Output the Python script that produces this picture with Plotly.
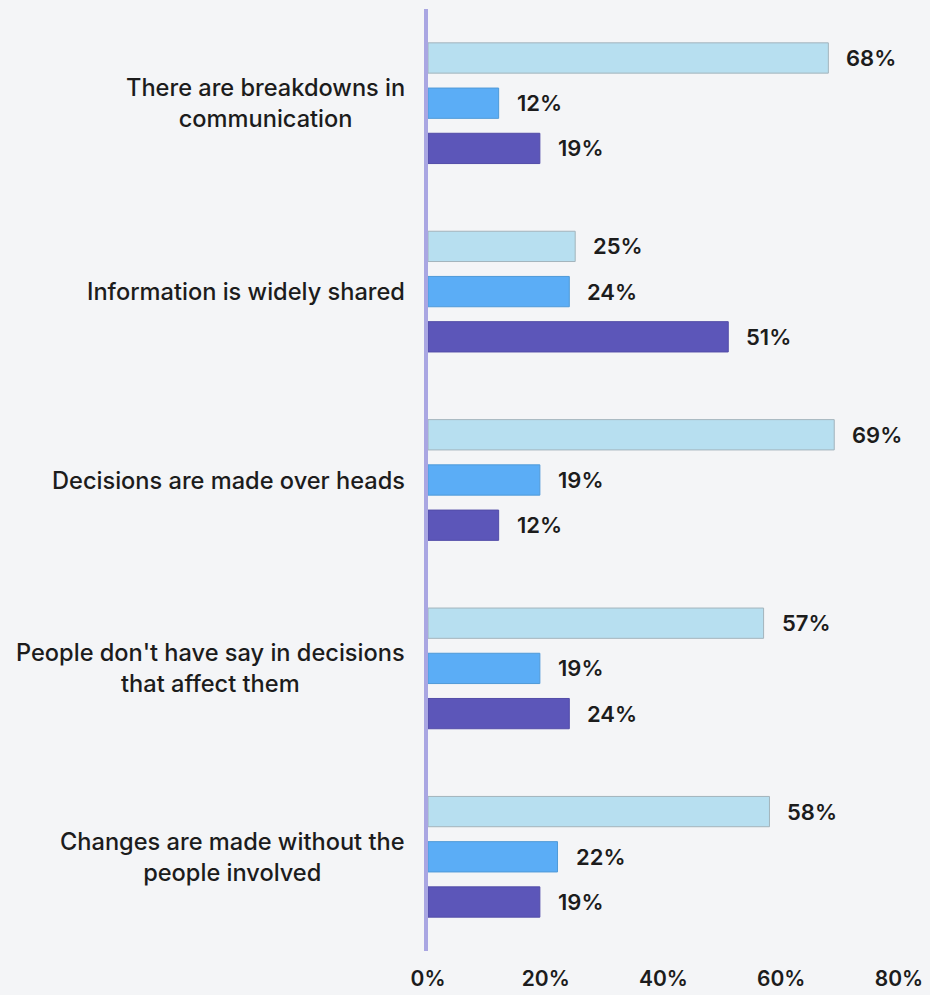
import plotly.graph_objects as go

# Survey statements and the share of respondents for each of three answer groups
statements = [
    "There are breakdowns in<br>communication",
    "Information is widely shared",
    "Decisions are made over heads",
    "People don't have say in decisions<br>that affect them",
    "Changes are made without the<br>people involved",
]
series_a = [68, 25, 69, 57, 58]
series_b = [12, 24, 19, 19, 22]
series_c = [19, 51, 12, 24, 19]

tick_values = [0, 20, 40, 60, 80]
tick_labels = ["0%", "20%", "40%", "60%", "80%"]

colors = ["#b7dff0", "#5badf6", "#5c56b9"]
edge_colors = ["#a3b4bc", "#4f9ad8", "#524ca8"]
FONT = "Inter"
BG = "#f4f5f7"

positions = list(range(len(statements)))
bargap = 0.28
slot = (1 - bargap) / 3
offsets = [-slot, 0, slot]

fig = go.Figure()
for i, vals in enumerate([series_a, series_b, series_c]):
    fig.add_trace(go.Bar(
        y=positions,
        x=vals,
        orientation="h",
        marker=dict(color=colors[i], line=dict(color=edge_colors[i], width=1)),
        hoverinfo="x",
        showlegend=False,
    ))

annotations = []
# value labels to the right of every bar
for i, vals in enumerate([series_a, series_b, series_c]):
    for p, v in zip(positions, vals):
        annotations.append(dict(
            x=v, y=p + offsets[i], xref="x", yref="y",
            text=f"{v}%", showarrow=False, xanchor="left", yanchor="middle",
            xshift=16,
            font=dict(family=FONT, size=22, color="#1c1c1c", weight=600),
        ))
# statement labels, centred line by line and right-aligned as a block
for p, s in zip(positions, statements):
    annotations.append(dict(
        x=0, y=p, xref="paper", yref="y",
        text=s, showarrow=False, xanchor="right", yanchor="middle",
        align="center", xshift=-21,
        font=dict(family=FONT, size=23.6, color="#1c1c1c", weight=500),
    ))

fig.update_layout(
    width=930, height=995,
    paper_bgcolor=BG, plot_bgcolor=BG,
    margin=dict(l=428, r=31, t=9, b=44),
    barmode="group",
    bargap=bargap,
    bargroupgap=0.33,
    annotations=annotations,
    xaxis=dict(
        range=[0, 80],
        tickvals=tick_values, ticktext=tick_labels,
        showgrid=False, zeroline=False, showline=False,
        ticks="", ticklabelstandoff=13, automargin=False,
        tickfont=dict(family=FONT, size=21, color="#1c1c1c", weight=600),
    ),
    yaxis=dict(
        range=[len(statements) - 0.5, -0.5],
        showticklabels=False, showgrid=False, zeroline=False,
        showline=True, linecolor="#a9a6e2", linewidth=4,
        ticks="", automargin=False,
    ),
)

fig.write_html("out.html")
